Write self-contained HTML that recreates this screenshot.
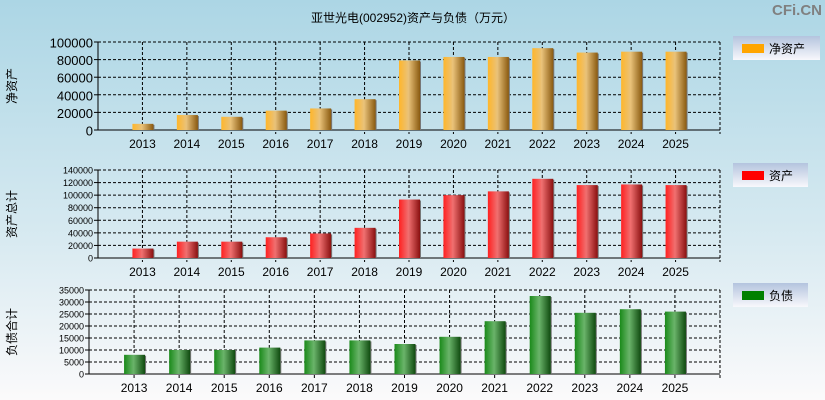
<!DOCTYPE html>
<html><head><meta charset="utf-8">
<style>
html,body{margin:0;padding:0}
body{width:825px;height:400px;overflow:hidden;background:linear-gradient(#acd6e5,#d8eaf1 60%,#fbfafb);font-family:"Liberation Sans","Noto Sans CJK SC",sans-serif}
svg{display:block}
</style></head><body>
<svg id="c" width="825" height="400" xmlns="http://www.w3.org/2000/svg">
<defs>
<linearGradient id="gO" x1="0" x2="1"><stop offset="0" stop-color="#ffb62a"/><stop offset="0.45" stop-color="#e9c27a"/><stop offset="1" stop-color="#8a5a10"/></linearGradient>
<linearGradient id="gR" x1="0" x2="1"><stop offset="0" stop-color="#ff2020"/><stop offset="0.45" stop-color="#f07070"/><stop offset="1" stop-color="#8a1010"/></linearGradient>
<linearGradient id="gG" x1="0" x2="1"><stop offset="0" stop-color="#1a8a1a"/><stop offset="0.45" stop-color="#6ab46a"/><stop offset="1" stop-color="#0f4a0f"/></linearGradient>
<linearGradient id="gL" x1="0" x2="0" y1="0" y2="1"><stop offset="0" stop-color="#b4c4de"/><stop offset="1" stop-color="#f8f8fc"/></linearGradient>
</defs>
<text x="413" y="22" text-anchor="middle" font-size="12">亚世光电(002952)资产与负债（万元）</text>
<text x="822" y="15" text-anchor="end" font-size="15" font-weight="bold" fill="#808080">CFi.CN</text>
</svg>
<script>
const years = ["2013","2014","2015","2016","2017","2018","2019","2020","2021","2022","2023","2024","2025"];
const netAssets = [7000,17000,15000,22000,24500,35000,79000,83000,83000,93000,88000,89000,89000];
const totalAssets = [15000,26000,26000,33000,39000,48000,93000,100000,106000,126000,116000,117000,116000];
const liabilities = [8000,10000,10000,11000,14000,14000,12500,15500,22000,32500,25500,27000,26000];
const ticks1 = [0,20000,40000,60000,80000,100000];
const ticks2 = [0,20000,40000,60000,80000,100000,120000,140000];
const ticks3 = [0,5000,10000,15000,20000,25000,30000,35000];

const svg = document.getElementById('c');
const NS = 'http://www.w3.org/2000/svg';
function mk(tag, attrs, parent){const e=document.createElementNS(NS,tag);for(const k in attrs)e.setAttribute(k,attrs[k]);(parent||svg).appendChild(e);return e;}

function panel(p){
  const g = mk('g',{});
  
  
  const max = p.ticks[p.ticks.length-1];
  const y = v => p.bottom - (v/max)*(p.bottom-p.top);
  const slot = (p.right-p.left)/(years.length+1);
  const x = i => p.left + slot*(i+1);
  // grid
  p.ticks.forEach(t=>{
    const yy=y(t);
    if(t>0){const l=mk('line',{x1:p.left,x2:p.right,y1:yy,y2:yy,stroke:'#000','stroke-dasharray':'3,2','stroke-width':1},g);
      }
    mk('line',{x1:p.left-4,x2:p.left,y1:yy,y2:yy,stroke:'#000'},g);
    const tx=mk('text',{x:p.left-5,y:yy+p.fs/2-1,'text-anchor':'end','font-size':p.fs},g);
    tx.textContent=t;
    
  });
  years.forEach((yr,i)=>{
    const xx=x(i);
    const l=mk('line',{x1:xx,x2:xx,y1:p.top,y2:p.bottom+4,stroke:'#000','stroke-dasharray':'3,2'},g);
    
    const tx=mk('text',{x:xx,y:p.bottom+18,'text-anchor':'middle','font-size':12},g);
    tx.textContent=yr;
    
  });
  mk('line',{x1:p.right,x2:p.right,y1:p.top,y2:p.bottom+4,stroke:'#000','stroke-dasharray':'3,2'},g);
  mk('line',{x1:p.left,x2:p.left,y1:p.top,y2:p.bottom,stroke:'#000'},g);
  mk('line',{x1:p.left,x2:p.right,y1:p.bottom,y2:p.bottom,stroke:'#000'},g);
  p.data.forEach((v,i)=>{
    const xx=x(i), yy=y(v);
    mk('rect',{x:xx-9,y:yy+1,width:21,height:p.bottom-yy-1,fill:'#777'},g);
    const r=mk('rect',{x:xx-10,y:yy,width:21,height:p.bottom-yy,fill:p.fill},g);
    
  });
  const at=mk('text',{x:0,y:0,'font-size':12,'text-anchor':'middle',transform:`translate(${p.axX},${(p.top+p.bottom)/2}) rotate(-90)`},g);
  at.textContent=p.axis;
  
  const lg=mk('g',{},g);
  
  mk('rect',{x:733,y:p.lgY,width:p.lgW,height:24,fill:'url(#gL)'},lg);
  mk('rect',{x:742,y:p.lgY+8,width:22,height:9,fill:p.color},lg);
  const lt=mk('text',{x:769,y:p.lgY+17,'font-size':12},lg);
  lt.textContent=p.label;
}
panel({name:'net-assets-panel',left:98,right:720,top:42,bottom:130,ticks:ticks1,data:netAssets,fill:'url(#gO)',fs:13,axis:'净资产',axX:16,lgY:36,lgW:87,color:'#ffa500',label:'净资产'});
panel({name:'total-assets-panel',left:98,right:720,top:170,bottom:258,ticks:ticks2,data:totalAssets,fill:'url(#gR)',fs:9,axis:'资产总计',axX:16,lgY:163,lgW:75,color:'#ff0000',label:'资产'});
panel({name:'liabilities-panel',left:89,right:720,top:290,bottom:374,ticks:ticks3,data:liabilities,fill:'url(#gG)',fs:9,axis:'负债合计',axX:16,lgY:283,lgW:75,color:'#008000',label:'负债'});
</script>
</body></html>
